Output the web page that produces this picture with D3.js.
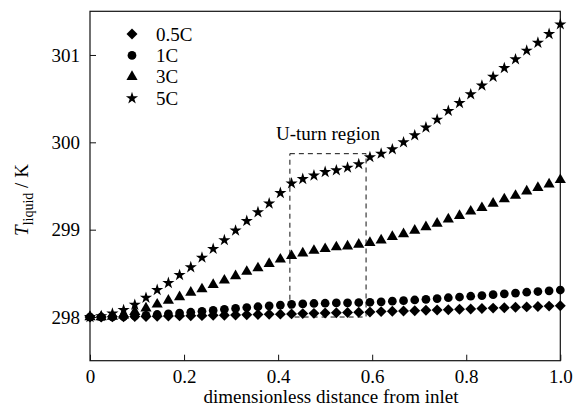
<!DOCTYPE html>
<html>
<head>
<meta charset="utf-8">
<script src="https://cdn.jsdelivr.net/npm/d3@7"></script>
<style>
  body { margin: 0; background: #fff; }
  svg text { font-family: "Liberation Serif", "Times New Roman", serif; fill: #000; }
</style>
</head>
<body>
<script>
const WIDTH = 581
const HEIGHT = 407
const M = { left: 90, right: 20.7, top: 11.3, bottom: 46.3 }

// position x = i/42, 43 points per series
const X_POS = d3.range(43).map(i => i / 42)

const C05 = [298.000, 298.001, 298.003, 298.004, 298.006, 298.007, 298.009, 298.011, 298.013, 298.014,
  298.016, 298.019, 298.021, 298.023, 298.026, 298.028, 298.031, 298.033, 298.036, 298.039,
  298.042, 298.045, 298.048, 298.051, 298.055, 298.058, 298.062, 298.065, 298.069, 298.073,
  298.077, 298.080, 298.084, 298.088, 298.093, 298.097, 298.102, 298.106, 298.111, 298.116,
  298.120, 298.125, 298.130]
const C1 = [298.000, 298.000, 298.001, 298.004, 298.012, 298.020, 298.029, 298.037, 298.045, 298.055,
  298.065, 298.076, 298.088, 298.099, 298.109, 298.118, 298.128, 298.137, 298.145, 298.150,
  298.155, 298.158, 298.161, 298.163, 298.166, 298.169, 298.174, 298.181, 298.187, 298.195,
  298.203, 298.211, 298.221, 298.229, 298.238, 298.246, 298.256, 298.266, 298.274, 298.284,
  298.292, 298.300, 298.309]
const C3 = [298.00, 298.00, 298.005, 298.02, 298.06, 298.10, 298.145, 298.19, 298.23, 298.28,
  298.32, 298.37, 298.42, 298.47, 298.52, 298.56, 298.61, 298.66, 298.70, 298.73,
  298.76, 298.78, 298.80, 298.81, 298.83, 298.85, 298.88, 298.92, 298.95, 298.99,
  299.03, 299.07, 299.12, 299.16, 299.21, 299.25, 299.30, 299.35, 299.39, 299.44,
  299.48, 299.52, 299.57]
const C5 = [298.00, 298.01, 298.04, 298.08, 298.14, 298.22, 298.31, 298.39, 298.48, 298.57,
  298.68, 298.78, 298.88, 298.99, 299.10, 299.20, 299.30, 299.42, 299.53, 299.58,
  299.62, 299.66, 299.68, 299.71, 299.75, 299.83, 299.87, 299.92, 300.00, 300.08,
  300.17, 300.26, 300.36, 300.45, 300.55, 300.65, 300.75, 300.85, 300.95, 301.05,
  301.14, 301.24, 301.35]

const SERIES_NAMES = ['0.5C', '1C', '3C', '5C']
const X_TICKS = [0, 0.2, 0.4, 0.6, 0.8, 1.0]
const Y_TICKS = [298, 299, 300, 301]
// U-turn box, in data units
const BOX_X = [0.425, 0.587]
const BOX_Y = [298.0, 299.87]

const FONT = '"Liberation Serif", "Times New Roman", serif'

const diamond = {
  draw(ctx, size) {
    const r = Math.sqrt(size / 2)
    ctx.moveTo(0, -r); ctx.lineTo(r, 0); ctx.lineTo(0, r); ctx.lineTo(-r, 0); ctx.closePath()
  }
}
const SYMBOLS = [d3.symbol(diamond, 60), d3.symbol(d3.symbolCircle, 60),
  d3.symbol(d3.symbolTriangle, 54), d3.symbol(d3.symbolStar, 46)]

const svg = d3.select('body').append('svg')
  .attr('width', WIDTH).attr('height', HEIGHT)
  .style('font-family', FONT)

const x = d3.scaleLinear().domain([0, 1]).range([M.left, WIDTH - M.right])
const y = d3.scaleLinear().domain([297.5, 301.5]).range([HEIGHT - M.bottom, M.top])

// frame
svg.append('rect')
  .attr('x', x(0)).attr('y', y(301.5))
  .attr('width', x(1) - x(0)).attr('height', y(297.5) - y(301.5))
  .attr('fill', 'none').attr('stroke', '#111').attr('stroke-width', 1.2)

// axes, ticks pointing inward
const xAxis = svg.append('g')
  .attr('transform', `translate(0,${y(297.5)})`)
  .call(d3.axisBottom(x).tickValues(X_TICKS).tickSize(-6).tickPadding(9)
    .tickFormat(d => d === 0 ? '0' : d3.format('.1f')(d)))
xAxis.attr('font-family', FONT).attr('font-size', 19)
xAxis.select('.domain').remove()
xAxis.selectAll('line').attr('stroke', '#111')

const yAxis = svg.append('g')
  .attr('transform', `translate(${x(0)},0)`)
  .call(d3.axisLeft(y).tickValues(Y_TICKS).tickSize(-6).tickPadding(10).tickFormat(d3.format('d')))
yAxis.attr('font-family', FONT).attr('font-size', 19)
yAxis.select('.domain').remove()
yAxis.selectAll('line').attr('stroke', '#111')

// axis titles
svg.append('text')
  .attr('x', 331).attr('y', 402.5)
  .attr('text-anchor', 'middle').attr('font-size', 19)
  .text('dimensionless distance from inlet')

const yt = svg.append('text')
  .attr('transform', 'translate(28,200) rotate(-90)')
  .attr('text-anchor', 'middle').attr('font-size', 19)
yt.append('tspan').attr('font-style', 'italic').text('T')
yt.append('tspan').attr('font-size', 14).attr('dy', 5).text('liquid')
yt.append('tspan').attr('dy', -5).text(' / K')

// U-turn region
svg.append('rect')
  .attr('x', x(BOX_X[0])).attr('y', y(BOX_Y[1]))
  .attr('width', x(BOX_X[1]) - x(BOX_X[0])).attr('height', y(BOX_Y[0]) - y(BOX_Y[1]))
  .attr('fill', 'none').attr('stroke', '#111').attr('stroke-width', 1)
  .attr('stroke-dasharray', '5,4')
svg.append('text')
  .attr('x', (x(BOX_X[0]) + x(BOX_X[1])) / 2).attr('y', 140)
  .attr('text-anchor', 'middle').attr('font-size', 19)
  .text('U-turn region')

// markers
const ALL = [C05, C1, C3, C5]
ALL.forEach((vals, k) => {
  svg.append('g').selectAll('path')
    .data(vals)
    .enter()
    .append('path')
    .attr('d', SYMBOLS[k])
    .attr('transform', (d, i) => `translate(${x(X_POS[i])},${y(d)})`)
    .attr('fill', '#000')
})

// legend
const legend = svg.append('g')
SERIES_NAMES.forEach((name, k) => {
  const cy = 34 + k * 21.4
  legend.append('path').attr('d', SYMBOLS[k])
    .attr('transform', `translate(132,${cy})`).attr('fill', '#000')
  legend.append('text').attr('x', 156).attr('y', cy + 6.5)
    .attr('font-size', 19).text(name)
})
</script>
</body>
</html>
